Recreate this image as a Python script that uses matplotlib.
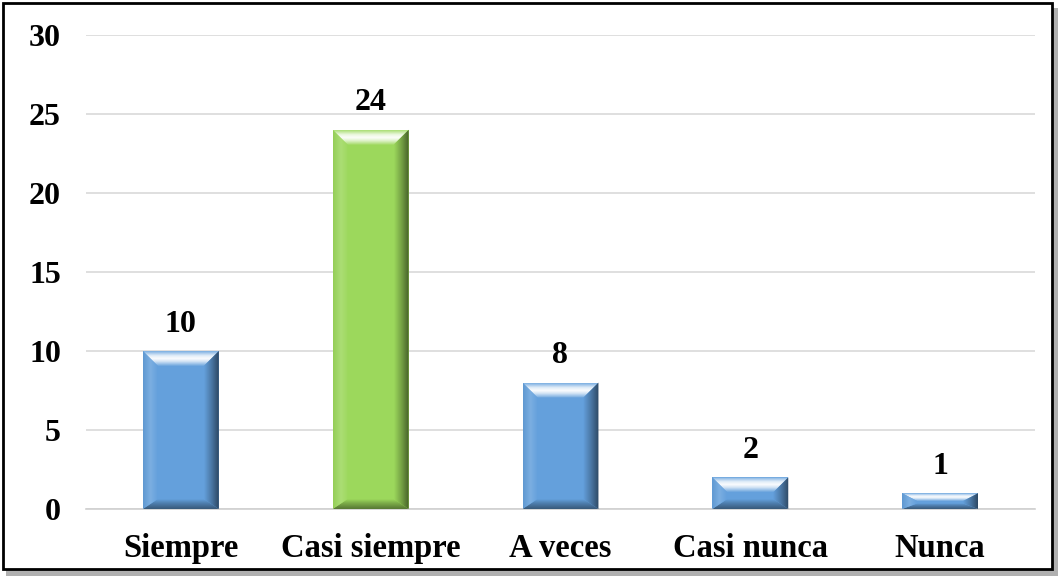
import matplotlib.pyplot as plt
from matplotlib.patches import Polygon, Rectangle
from matplotlib.colors import to_rgb
import numpy as np

categories = ['Siempre', 'Casi siempre', 'A veces', 'Casi nunca', 'Nunca']
values = [10, 24, 8, 2, 1]
bar_colors = ['#64a0dc', '#9cd85c', '#64a0dc', '#64a0dc', '#64a0dc']
y_ticks = [0, 5, 10, 15, 20, 25, 30]

plt.rcParams['font.family'] = ['Liberation Serif', 'DejaVu Serif']

fig = plt.figure(figsize=(10.61, 5.78), dpi=100)
ax = fig.add_axes([0.081, 0.1194, 0.8945, 0.82])

x = np.arange(len(categories))
width = 0.4
ymax = 30
ax.set_xlim(-0.5, len(categories) - 0.5)
ax.set_ylim(0, ymax)

bars = ax.bar(x, values, width=width, color=bar_colors, zorder=2)


def shade(c, f):
    c = np.array(to_rgb(c))
    if f >= 0:
        return c + (1 - c) * f
    return c * (1 + f)


def gradient(stops, n=64):
    # stops: list of (position, rgb)
    pos = [p for p, _ in stops]
    t = np.linspace(0, 1, n)
    return np.stack([np.interp(t, pos, [c[i] for _, c in stops]) for i in range(3)], axis=-1)


def face(poly, extent, img):
    patch = Polygon(poly, closed=True, fc='none', ec='none', zorder=3)
    ax.add_patch(patch)
    im = ax.imshow(img, extent=extent, aspect='auto', origin='lower',
                   interpolation='bilinear', zorder=3)
    im.set_clip_path(patch)


# bevelled faces on each bar
px_x = ax.bbox.width / len(categories)
px_y = ax.bbox.height / ymax
for b, col in zip(bars, bar_colors):
    x0, y0 = b.get_x(), 0
    x1, y1 = x0 + b.get_width(), b.get_height()
    h = y1 - y0
    bx = 15 / px_x
    bt = min(15 / px_y, h * 0.5)
    bb = min(10 / px_y, h * 0.35)
    base = shade(col, 0)

    top = [(x0, y1), (x1, y1), (x1 - bx, y1 - bt), (x0 + bx, y1 - bt)]
    g = gradient([(0, shade(col, 0.05)), (0.3, shade(col, 0.7)), (0.5, shade(col, 0.97)),
                  (0.7, shade(col, 0.8)), (1, shade(col, 0.15))])
    face(top, (x0, x1, y1 - bt, y1), g[:, None, :])

    bottom = [(x0, y0), (x1, y0), (x1 - bx, y0 + bb), (x0 + bx, y0 + bb)]
    g = gradient([(0, shade(col, -0.45)), (0.6, shade(col, -0.2)), (1, base)])
    face(bottom, (x0, x1, y0, y0 + bb), g[:, None, :])

    left = [(x0, y0), (x0, y1), (x0 + bx, y1 - bt), (x0 + bx, y0 + bb)]
    g = gradient([(0, shade(col, -0.05)), (0.5, shade(col, 0.15)), (1, base)])
    face(left, (x0, x0 + bx, y0, y1), g[None, :, :])

    right = [(x1, y0), (x1, y1), (x1 - bx, y1 - bt), (x1 - bx, y0 + bb)]
    g = gradient([(0, base), (0.5, shade(col, -0.25)), (1, shade(col, -0.55))])
    face(right, (x1 - bx, x1, y0, y1), g[None, :, :])

    ax.annotate(str(int(y1)), (b.get_x() + b.get_width() / 2, y1),
                xytext=(0, 9), textcoords='offset points', ha='center', va='bottom',
                fontsize=23, fontweight='bold')

ax.set_xlim(-0.5, len(categories) - 0.5)
ax.set_ylim(0, ymax)
ax.set_yticks(y_ticks)
ax.set_yticklabels([str(t) for t in y_ticks], fontsize=23, fontweight='bold')
ax.set_xticks(x)
ax.set_xticklabels(categories, fontsize=23.5, fontweight='bold')
ax.tick_params(axis='y', length=0, pad=18)
ax.tick_params(axis='x', length=0, pad=17)
ax.grid(axis='y', color='#d9d9d9', lw=1.2, zorder=0)
for s in ['top', 'right', 'left']:
    ax.spines[s].set_visible(False)
ax.spines['bottom'].set_color('#d0d0d0')
ax.spines['bottom'].set_linewidth(1.2)

# outer frame with drop shadow
fig.patches.append(Rectangle((6 / 1061, 2 / 578), 1052 / 1061, 568 / 578,
                             transform=fig.transFigure, facecolor='#b0b0b0',
                             edgecolor='none', zorder=-2))
fig.patches.append(Rectangle((3 / 1061, 9 / 578), 1049 / 1061, 566 / 578,
                             transform=fig.transFigure, facecolor='white',
                             edgecolor='black', lw=2, zorder=-1))

fig.savefig('out.png', dpi=100)
